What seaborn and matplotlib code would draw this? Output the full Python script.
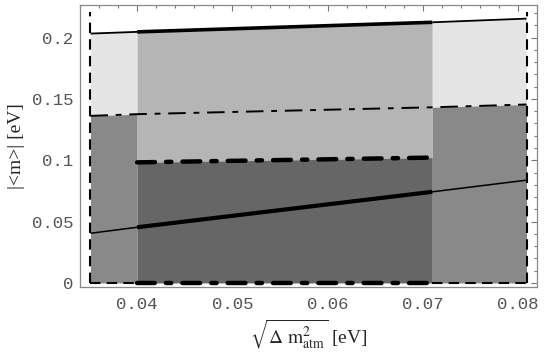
import numpy as np
import matplotlib
matplotlib.use("Agg")
import matplotlib.pyplot as plt
import seaborn as sns
import pandas as pd

# ---- data ----
x_bounds = [0.0351, 0.0400, 0.0710, 0.0809]          # region edges
top_line = [0.2033, 0.2047, 0.2125, 0.2155]          # upper solid line
mid_line = [0.1362, 0.1376, 0.1432, 0.1455]          # dash-dot line
inner_x = [0.0400, 0.0710]
inner_line = [0.0983, 0.1022]                        # thick dash-dot line
low_line = [0.0405, 0.0454, 0.0743, 0.0838]          # lower solid line
vert_top = 0.221

xticks = [0.04, 0.05, 0.06, 0.07, 0.08]
xtick_labels = ["0.04", "0.05", "0.06", "0.07", "0.08"]
yticks = [0, 0.05, 0.1, 0.15, 0.2]
ytick_labels = ["0", "0.05", "0.1", "0.15", "0.2"]

c_light = "#e5e5e5"
c_lmid = "#b5b5b5"
c_mid = "#898989"
c_dark = "#666666"

sns.set_style("white")
plt.rcParams["mathtext.fontset"] = "stix"

fig = plt.figure(figsize=(5.45, 3.54), dpi=100)
ax = fig.add_axes([80/545, 1-287/354, (537-80)/545, (287-5)/354])

# ---- filled regions ----
xs = x_bounds[0:2]
ax.fill_between(xs, mid_line[0:2], top_line[0:2], color=c_light, lw=0)
ax.fill_between(xs, [0, 0], mid_line[0:2], color=c_mid, lw=0)
xs = x_bounds[1:3]
ax.fill_between(xs, inner_line, top_line[1:3], color=c_lmid, lw=0)
ax.fill_between(xs, [0, 0], inner_line, color=c_dark, lw=0)
xs = x_bounds[2:4]
ax.fill_between(xs, mid_line[2:4], top_line[2:4], color=c_light, lw=0)
ax.fill_between(xs, [0, 0], mid_line[2:4], color=c_mid, lw=0)

def seg(xv, yv, ls=None, cap="butt", **kw):
    df = pd.DataFrame({"x": xv, "y": yv})
    sns.lineplot(data=df, x="x", y="y", ax=ax, color="black", sort=False,
                 estimator=None, **kw)
    ln = ax.lines[-1]
    if ls is not None:
        ln.set_linestyle(ls)
    ln.set_dash_capstyle(cap)
    ln.set_solid_capstyle("butt")

# upper solid line
seg(x_bounds[0:2], top_line[0:2], lw=1.3)
seg(x_bounds[1:3], top_line[1:3], lw=2.6)
seg(x_bounds[2:4], top_line[2:4], lw=1.3)
# lower solid line
seg(x_bounds[0:2], low_line[0:2], lw=1.1)
seg(x_bounds[1:3], low_line[1:3], lw=3.0)
seg(x_bounds[2:4], low_line[2:4], lw=1.1)
# dash-dot lines
seg(x_bounds, mid_line, lw=1.4, ls=(0, (9, 4, 3, 4)))
seg(inner_x, inner_line, lw=3.2, ls=(0, (4, 2.5, 1.2, 2.5)), cap="round")
seg(inner_x, [0, 0], lw=3.2, ls=(0, (4, 2.5, 1.2, 2.5)), cap="round")
# dashed region boundary
dash = (0, (5, 3))
seg([x_bounds[0], x_bounds[1]], [0, 0], lw=1.5, ls=dash)
seg([x_bounds[2], x_bounds[3]], [0, 0], lw=1.5, ls=dash)
seg([x_bounds[0], x_bounds[0]], [0, vert_top], lw=1.5, ls=dash)
seg([x_bounds[3], x_bounds[3]], [0, vert_top], lw=1.5, ls=dash)

ax.set_xlim(0.0340, 0.0820)
ax.set_ylim(-0.0033, 0.2266)

ax.set_xticks(xticks)
ax.set_xticklabels(xtick_labels)
ax.set_yticks(yticks)
ax.set_yticklabels(ytick_labels)
ax.set_xticks(np.arange(0.034, 0.0821, 0.002), minor=True)
ax.set_yticks(np.arange(0.0, 0.2261, 0.01), minor=True)

for lab in ax.get_xticklabels() + ax.get_yticklabels():
    lab.set_fontfamily("Liberation Mono")
    lab.set_fontsize(12.5)
    lab.set_color("#555555")

ax.tick_params(which="both", direction="in", top=True, right=True,
               color="#777777", width=0.8)
ax.tick_params(which="major", length=4, pad=5)
ax.tick_params(axis="x", which="major", pad=7)
ax.tick_params(which="minor", length=2.5)
for s in ax.spines.values():
    s.set_color("#888888")
    s.set_linewidth(0.9)

ax.set_xlabel(r"$\sqrt{\Delta\ \mathrm{m}^2_{\mathrm{atm}}}$ [eV]",
              fontfamily="Liberation Serif", fontsize=14, labelpad=4)
ax.set_ylabel("|<m>| [eV]", fontfamily="Liberation Serif", fontsize=14,
              labelpad=5)

fig.savefig("out.png", dpi=100)
